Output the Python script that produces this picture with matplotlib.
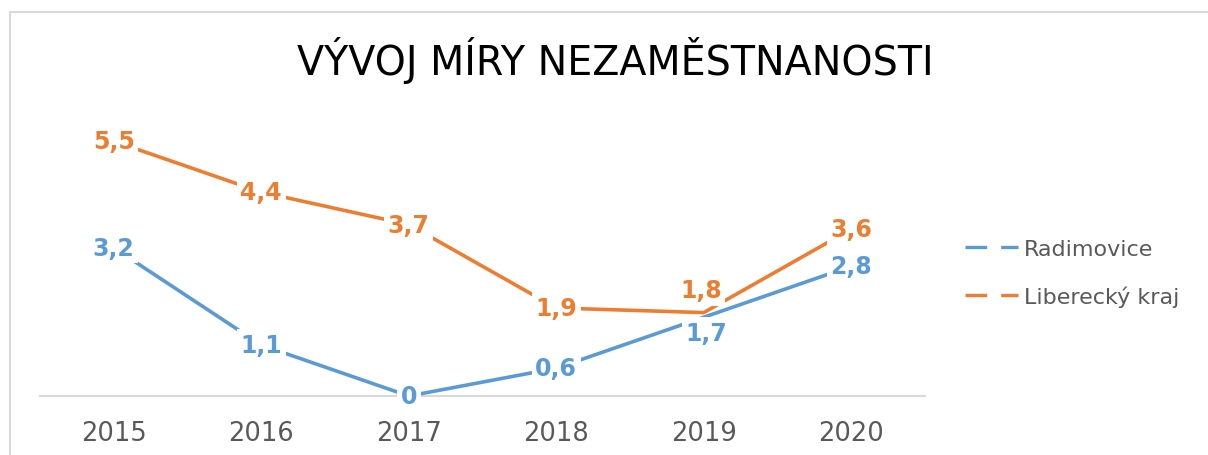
import matplotlib.pyplot as plt
from matplotlib.lines import Line2D

# ---------------- Data ----------------
years = ["2015", "2016", "2017", "2018", "2019", "2020"]
radimovice = [3.2, 1.1, 0.0, 0.6, 1.7, 2.8]
liberecky = [5.5, 4.4, 3.7, 1.9, 1.8, 3.6]

blue = "#5B9BD5"
orange = "#ED7D31"
grey_text = "#595959"
grey_line = "#D9D9D9"

# label nudges (points) where Excel moved labels off the point
offsets_r = {4: (2, -11)}
offsets_l = {4: (-2, 16)}

# ---------------- Figure ----------------
W, H = 1208, 456
fig = plt.figure(figsize=(W / 100, H / 100), dpi=100)
ax = fig.add_axes([40 / W, 59 / H, 885 / W, 278 / H])

x = list(range(len(years)))
ax.plot(x, radimovice, color=blue, lw=2.6, solid_capstyle="round", zorder=2)
ax.plot(x, liberecky, color=orange, lw=2.6, solid_capstyle="round", zorder=2)


def fmt(v):
    return f"{v:g}".replace(".", ",")


def labels(values, color, offsets):
    for i, v in enumerate(values):
        dx, dy = offsets.get(i, (0, 0))
        ax.annotate(fmt(v), (i, v), xytext=(dx, dy), textcoords="offset points",
                    ha="center", va="center", fontsize=17, fontweight="bold",
                    color=color, zorder=4, annotation_clip=False,
                    bbox=dict(boxstyle="square,pad=0.15", fc="white", ec="none"))


labels(radimovice, blue, offsets_r)
labels(liberecky, orange, offsets_l)

ax.set_xlim(-0.5, len(years) - 0.5)
ax.set_ylim(0, 6)
ax.set_xticks(x)
ax.set_xticklabels(years, fontsize=18.5, color=grey_text)
ax.tick_params(axis="x", length=0, pad=17)
ax.set_yticks([])
for s in ["top", "right", "left"]:
    ax.spines[s].set_visible(False)
ax.spines["bottom"].set_color(grey_line)
ax.spines["bottom"].set_linewidth(1.5)
ax.spines["bottom"].set_zorder(1)

# title
fig.text(615 / W, 1 - 60 / H, "VÝVOJ MÍRY NEZAMĚSTNANOSTI", ha="center", va="center",
         fontsize=28.5, color="black")

# legend with dashed keys
handles = [Line2D([], [], color=blue, lw=2.4, dashes=(6.5, 4.2)),
           Line2D([], [], color=orange, lw=2.4, dashes=(6.5, 4.2))]
fig.legend(handles, ["Radimovice", "Liberecký kraj"], loc="center left",
           bbox_to_anchor=(945 / W, 1 - 274 / H), frameon=False, fontsize=16,
           labelcolor=grey_text, handlelength=2.4, handletextpad=0.25,
           labelspacing=1.2)

# chart frame (top and left edges visible)
fig.add_artist(Line2D([10 / W, 1], [1 - 13 / H, 1 - 13 / H], color=grey_line, lw=1.5))
fig.add_artist(Line2D([10 / W, 10 / W], [0, 1 - 13 / H], color=grey_line, lw=1.5))

fig.savefig("out.png", dpi=100)
